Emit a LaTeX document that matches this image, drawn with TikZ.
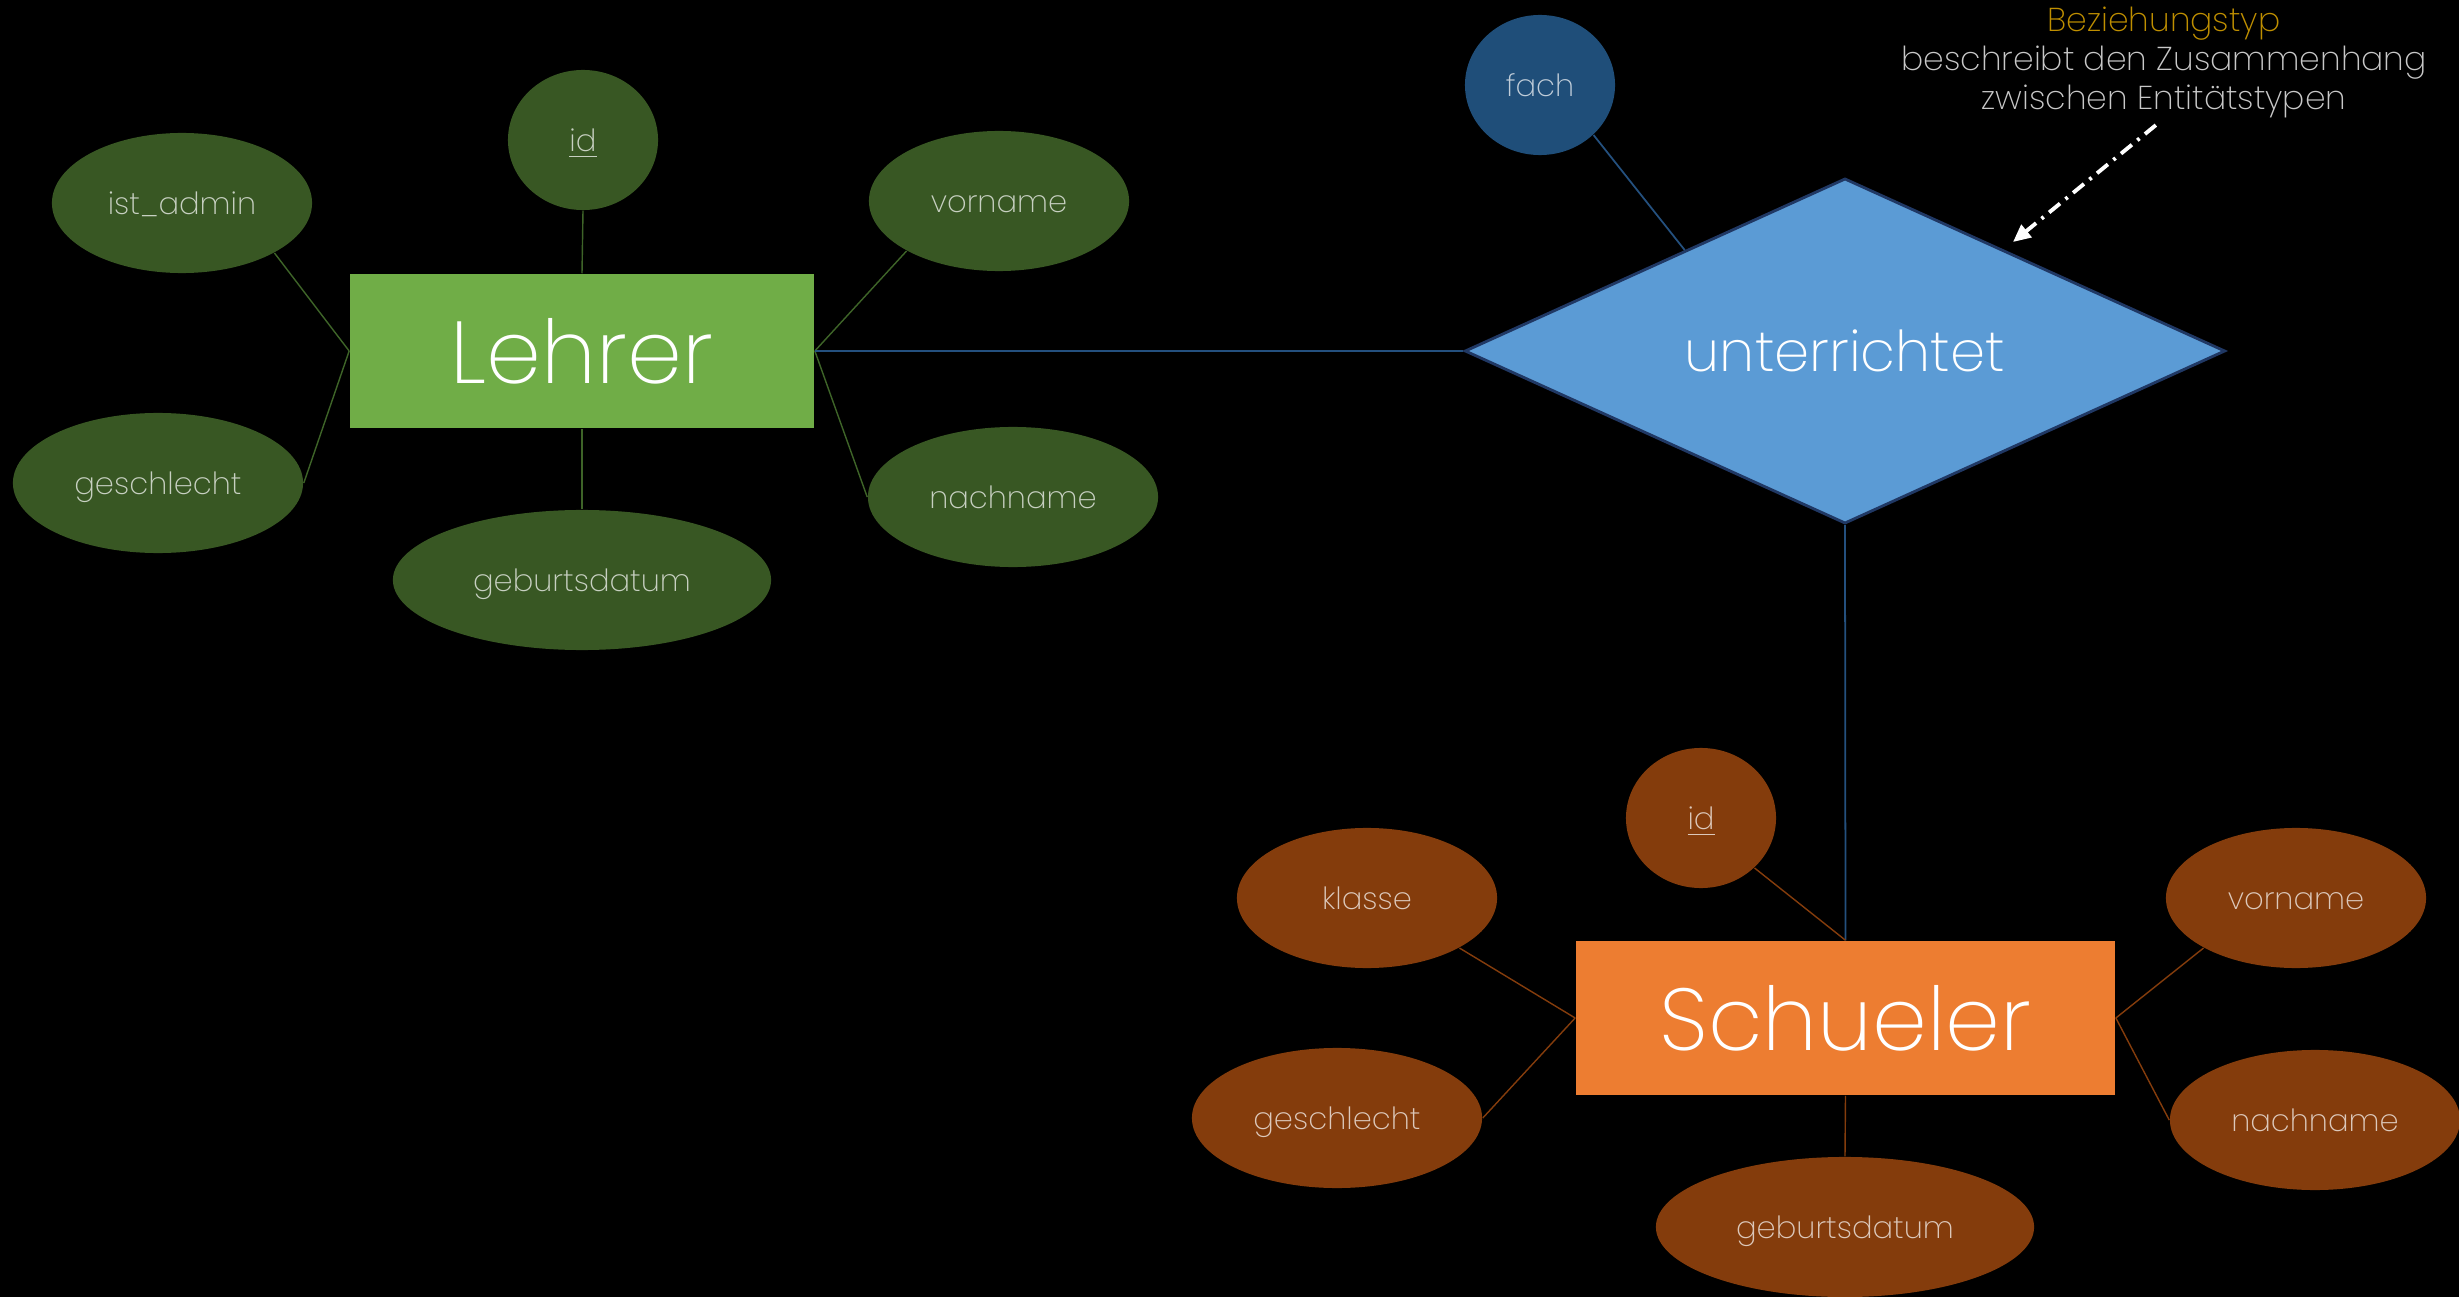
\documentclass[tikz,border=0pt]{standalone}
\usepackage{fontspec}
\IfFontExistsTF{Poppins ExtraLight}{\setmainfont{Poppins ExtraLight}}{%
  \IfFontExistsTF{Poppins Light}{\setmainfont{Poppins Light}}{\setmainfont{Poppins}}}
\usetikzlibrary{shapes.geometric,arrows.meta,calc}
\definecolor{entG}{HTML}{70AD47}
\definecolor{attG}{HTML}{385723}
\definecolor{lineG}{HTML}{3E6428}
\definecolor{relB}{HTML}{5B9BD5}
\definecolor{relBorder}{HTML}{203864}
\definecolor{attB}{HTML}{1F4E79}
\definecolor{lineB}{HTML}{24507E}
\definecolor{entO}{HTML}{ED7D31}
\definecolor{attO}{HTML}{843C0C}
\definecolor{gold}{HTML}{BF8F00}
\definecolor{anngray}{HTML}{C8C8C8}
\tikzset{
  attr/.style={ellipse, inner sep=0pt, minimum height=1.4cm, text=white, text opacity=0.72,
    text height=6.6pt, text depth=0pt, font=\fontsize{8.7}{10}\selectfont},
  attrG/.style={attr, fill=attG},
  attrO/.style={attr, fill=attO},
  attrB/.style={attr, fill=attB},
  entity/.style={rectangle, inner sep=0pt, minimum height=1.54cm, text=white,
    font=\fontsize{25}{30}\selectfont},
  relation/.style={diamond, shape aspect=3, inner sep=0pt, fill=relB, draw=relBorder, line width=0.8pt,
    minimum width=7.6cm, minimum height=3.45cm, text=white, font=\fontsize{16}{19}\selectfont},
  conG/.style={draw=lineG, line width=0.4pt},
  conO/.style={draw=attO, line width=0.4pt},
  conB/.style={draw=lineB, line width=0.5pt},
  annarrow/.style={draw=white, line width=1.1pt, dash pattern=on 4pt off 2pt on 0.8pt off 2pt,
    -{Triangle[length=5pt,width=4.5pt]}},
}
\begin{document}
\begin{tikzpicture}[x=0.01cm, y=-0.01cm]
\fill[black] (0,0) rectangle (2459,1297);
\useasboundingbox (0,0) rectangle (2459,1297);

% Lehrer
\node[entity, fill=entG, minimum width=4.64cm] (lehrer) at (582,351) {Lehrer};
\node[attrG, minimum width=1.5cm]  (lid)    at (583,140) {\underline{id}};
\node[attrG, minimum width=2.6cm]  (ladmin) at (182,203) {ist\_admin};
\node[attrG, minimum width=2.9cm]  (lgesch) at (158,483) {geschlecht};
\node[attrG, minimum width=3.78cm] (lgeb)   at (582,580) {geburtsdatum};
\node[attrG, minimum width=2.6cm]  (lvor)   at (999,201) {vorname};
\node[attrG, minimum width=2.9cm]  (lnach)  at (1013,497) {nachname};

% Relationship
\node[relation] (rel) at (1845,351) {unterrichtet};
\node[attrB, minimum width=1.5cm] (fach) at (1540,85) {fach};
\coordinate (fachend) at ($(rel.west)!0.58!(rel.north)$);

% Schueler
\node[entity, fill=entO, minimum width=5.39cm] (schueler) at (1845.5,1018) {Schueler};
\node[attrO, minimum width=1.5cm]  (sid)    at (1701,818) {\underline{id}};
\node[attrO, minimum width=2.6cm]  (sklasse) at (1367,898) {klasse};
\node[attrO, minimum width=2.9cm]  (sgesch) at (1337,1118) {geschlecht};
\node[attrO, minimum width=3.78cm] (sgeb)   at (1845,1227) {geburtsdatum};
\node[attrO, minimum width=2.6cm]  (svor)   at (2296,898) {vorname};
\node[attrO, minimum width=2.9cm]  (snach)  at (2315,1120) {nachname};

% Lehrer connectors
\draw[conG] (lid.south) -- (lehrer.north);
\draw[conG] (ladmin.south east) -- (lehrer.west);
\draw[conG] (lgesch.east) -- (lehrer.west);
\draw[conG] (lgeb.north) -- (lehrer.south);
\draw[conG] (lvor.south west) -- (lehrer.east);
\draw[conG] (lnach.west) -- (lehrer.east);

% Relationship connectors
\draw[conB] (lehrer.east) -- (rel.west);
\draw[conB] (fach.south east) -- (fachend);
\draw[conB] (rel.south) -- (schueler.north);

% Schueler connectors
\draw[conO] (sid.south east) -- (schueler.north);
\draw[conO] (sklasse.south east) -- (schueler.west);
\draw[conO] (sgesch.east) -- (schueler.west);
\draw[conO] (sgeb.north) -- (schueler.south);
\draw[conO] (svor.south west) -- (schueler.east);
\draw[conO] (snach.west) -- (schueler.east);

% Annotation
\node[anchor=north, inner sep=0pt, align=center, text=anngray,
  font=\fontsize{9.4}{11.1}\selectfont] (ann) at (2164,6)
  {\textcolor{gold}{Beziehungstyp}\\beschreibt den Zusammenhang\\zwischen Entitätstypen};
\coordinate (aend) at (2013,242);
\draw[annarrow, shorten <=3pt] (ann.south) -- (aend);
\end{tikzpicture}
\end{document}
